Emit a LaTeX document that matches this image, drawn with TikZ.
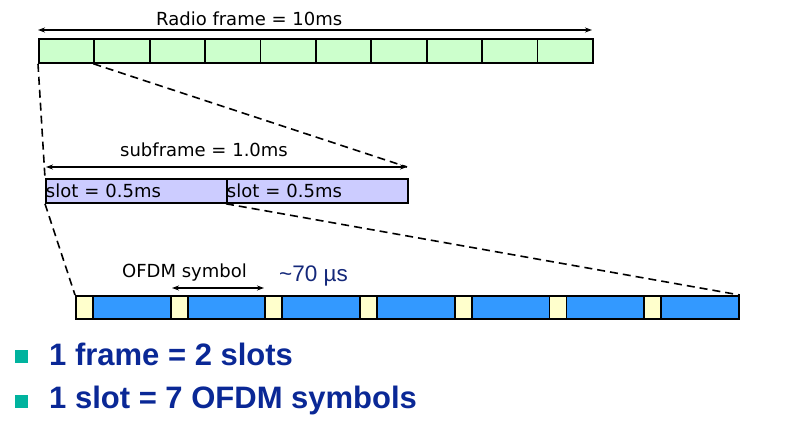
\documentclass[tikz,border=0pt]{standalone}
\usepackage{fontspec}
\setmainfont{DejaVu Sans}
\newfontfamily\arialfont{Liberation Sans}
\usetikzlibrary{positioning,calc,arrows.meta}
\definecolor{framegreen}{HTML}{CCFFCC}
\definecolor{slotlilac}{HTML}{CCCCFF}
\definecolor{symblue}{HTML}{3399FF}
\definecolor{cpyellow}{HTML}{FFFFCC}
\definecolor{navy}{HTML}{14287A}
\definecolor{bulletblue}{HTML}{0A2896}
\definecolor{bulletteal}{HTML}{00B39E}

\begin{document}
\begin{tikzpicture}[x=1pt, y=-1pt,
  cell/.style={rectangle, draw=black, line width=1.8pt, inner sep=0pt, anchor=north west, minimum height=24pt},
  subcell/.style={cell, fill=framegreen, minimum width=55.4pt},
  slotcell/.style={cell, fill=slotlilac, minimum width=181pt, text width=181pt, align=left, font=\fontsize{18}{20}\selectfont},
  cpcell/.style={cell, fill=cpyellow, minimum width=17pt, minimum height=23pt},
  symcell/.style={cell, fill=symblue, minimum width=77.7pt, minimum height=23pt},
  lbl/.style={inner sep=0pt, anchor=base west, font=\fontsize{18}{20}\selectfont},
  span/.style={{Stealth[length=7pt,width=5pt]}-{Stealth[length=7pt,width=5pt]}, line width=1.1pt},
  zoomline/.style={dash pattern=on 8pt off 5pt, line width=1.6pt},
  bulletsq/.style={rectangle, fill=bulletteal, minimum size=13pt, inner sep=0pt},
  bullettext/.style={inner sep=0pt, anchor=base west, text=bulletblue, font=\arialfont\bfseries\fontsize{31}{34}\selectfont}
]
\useasboundingbox (0,0) rectangle (793,427);

% radio frame
\foreach \i in {0,...,9}
  \node[subcell] (sf\i) at ({38+55.4*\i},38) {};
\coordinate (rfL) at (38,30);
\coordinate (rfR) at (592,30);
\draw[span] (rfL) -- (rfR);
\node[lbl] (rftext) at (156,26) {Radio frame = 10ms};

% subframe
\node[slotcell] (slotA) at (45,178) {slot = 0.5ms};
\node[slotcell] (slotB) at (226,178) {slot = 0.5ms};
\coordinate (subL) at (46,167);
\coordinate (subR) at (407,167);
\draw[span] (subL) -- (subR);
\node[lbl] (sftext) at (120,157) {subframe = 1.0ms};

% OFDM symbols
\foreach \i in {0,...,6} {
  \node[cpcell] (cp\i) at ({75+94.71*\i},295) {};
  \node[symcell] (sym\i) at ({92+94.71*\i},295) {};
}
\coordinate (symL) at (172,288);
\coordinate (symR) at (264,288);
\draw[span] (symL) -- (symR);
\node[lbl] (symtext) at (122,278) {OFDM symbol};
\node[lbl, text=navy, font=\arialfont\fontsize{22.5}{25}\selectfont] (durtext) at (279,282) {\textasciitilde 70 µs};

% zoom lines
\draw[zoomline] (sf0.south west) -- (slotA.north west);
\draw[zoomline] (sf1.south west) -- (subR);
\draw[zoomline] (slotA.south west) -- (cp0.north west);
\draw[zoomline] (slotB.south west) -- (sym6.north east);

% bullets
\node[bulletsq] (b1) at (21.5,357) {};
\node[bullettext] (t1) at (49,366) {1 frame = 2 slots};
\node[bulletsq] (b2) at (21.5,401.5) {};
\node[bullettext] (t2) at (49,409) {1 slot = 7 OFDM symbols};
\end{tikzpicture}
\end{document}
